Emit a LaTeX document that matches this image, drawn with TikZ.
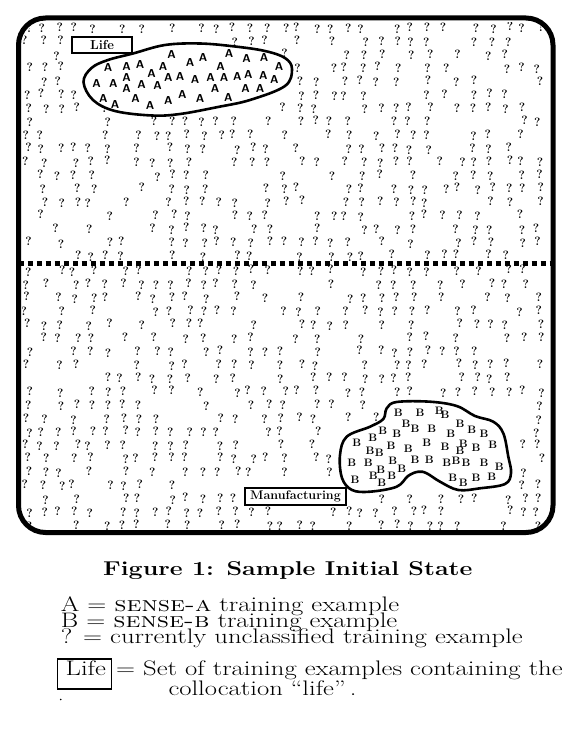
\documentclass[tikz,border=0pt]{standalone}
\usepackage{graphicx}
\newcommand\lgdstretch[1]{\scalebox{1.27}[1]{#1}}
\newcommand\capstretch[1]{\scalebox{1.25}[1]{#1}}
\begin{document}
\begin{tikzpicture}[x=1pt,y=-1pt,
  qm/.style={font=\bfseries\fontsize{12}{12}\selectfont, inner sep=0pt},
  amark/.style={font=\sffamily\bfseries\fontsize{11.5}{11.5}\selectfont, inner sep=0pt},
  bmark/.style={font=\bfseries\fontsize{10.8}{10.8}\selectfont, inner sep=0pt},
  blob/.style={line width=2.6pt, fill=white, line join=round},
  lbl/.style={draw, line width=1.6pt, fill=white, inner sep=0pt, font=\bfseries\fontsize{12.5}{12.5}\selectfont},
  legend/.style={anchor=base west, inner sep=0pt, font=\fontsize{21}{21}\selectfont},
]
\useasboundingbox (0,0) rectangle (582,730);

% scattered unclassified examples
\pgfmathsetseed{11}
\begin{scope}
\clip[rounded corners=22pt] (22,22) rectangle (550,529);
\foreach \r in {0,...,37}{
  \foreach \c in {0,...,32}{
    \pgfmathsetmacro{\px}{27+\c*16+3.5*rand}
    \pgfmathsetmacro{\py}{(\r<18 ? 28+13.4*\r : 271+13.4*(\r-18)) + 1.5*rand}
    \pgfmathtruncatemacro{\k}{rnd<0.64 ? 1 : 0}
    \pgfmathtruncatemacro{\excl}{
      ((((\px-188)/112)^2+((\py-79)/40)^2) < 1)
      || ((\px>64) && (\px<140) && (\py>30) && (\py<60))
      || ((\px>337) && (\px<514) && (\py>427) && (\py<495))
      || ((\px>382) && (\px<508) && (\py>397) && (\py<431))
      || ((\px>239) && (\px<352) && (\py>482) && (\py<511))}
    \ifnum\k=1 \ifnum\excl=0 \node[qm] (q\r-\c) at (\px,\py) {?};\fi\fi
  }
}
\end{scope}

% frame and separator
\draw[line width=5pt, rounded corners=27pt] (18.5,18) rectangle (553,532.5);
\coordinate (sepL) at (18.5,263.5);
\coordinate (sepR) at (553,263.5);
\draw[line width=5pt, dash pattern=on 5pt off 4pt] (sepL) -- (sepR);

% Life region
\draw[blob] plot[smooth cycle, tension=0.6] coordinates {
  (133,53.5) (165,45) (200,43.5) (235,46.5) (265,51) (285,58) (292,69)
  (285,86) (250,100) (218,107) (180,114) (152,115.5) (115,111) (93,100)
  (83.5,82) (91.5,68) (108,60)};
\node[lbl, minimum width=60pt, minimum height=16pt, font=\bfseries\fontsize{13}{13}\selectfont] (lifebox) at (102,45) {Life};
\foreach \x/\y [count=\i] in {171.7/54.3, 229/53.3, 203/58, 190/63, 246.7/59, 264/58,
  108/68, 126.7/67, 140/64.3, 163/67, 220.7/67, 279/66.7, 126.7/77.7, 151.7/73.3,
  168.3/77.7, 180/76.7, 195/79.3, 210.7/77.7, 224/77.7, 237.3/76.7, 248.3/74.3,
  263.3/75.7, 274.3/79.3, 96.7/83.3, 113.3/83.3, 126.7/89, 141.7/85, 157.7/85.7,
  215/88.3, 245.7/89, 260/88.3, 103.3/98.3, 115/104.3, 135.7/98.3, 150/105.7,
  168.3/101, 182.3/95, 200/99, 228.3/97.7}
  \node[amark] (a\i) at (\x,\y) {A};

% Manufacturing region
\draw[blob] plot[smooth cycle, tension=0.6] coordinates {
  (386.7,408.3) (396.7,402) (430,401.7) (456.7,406) (475,416) (493.3,421.7)
  (503.3,433.3) (508.3,456.7) (511,473) (505,484) (480,488.3) (458.3,490)
  (440,481.7) (426.7,473.3) (418.3,471.7) (408,476) (396.7,486.7) (370,491.7)
  (352,490) (342,478) (340,455) (346.7,436.7) (370,426.7) (383.3,419)};
\node[lbl, minimum width=101pt, minimum height=17pt] (manbox) at (295.5,496.5) {Manufacturing};
\foreach \x/\y [count=\i] in {398.3/412.7, 420/412.7, 439.3/410.7, 445/415, 406/424,
  382.7/431, 396.7/433.3, 415/428.3, 431.7/428.3, 460/423.3, 471.7/430, 484/433.3,
  450.7/433.3, 356.7/442.7, 372.7/437.7, 391/446, 408.3/448.7, 426.7/442.7,
  445/446.7, 463.3/443.3, 460/450.7, 476/447.3, 492.7/445, 370/451, 379.3/452.7,
  351.7/462.7, 368.3/462.7, 392.7/460.7, 380.7/469.3, 401.7/468.3, 415/460,
  429.3/460, 446.7/462.7, 456/461, 466/462.7, 484/462.7, 499.3/466.7, 355/479.3,
  373.3/476, 381.7/482.7, 391.7/476, 452.7/477.3, 463.3/482.7, 476/477.3, 491.7/476.7}
  \node[bmark] (b\i) at (\x,\y) {B};

% caption and legend
\node[legend, font=\bfseries\fontsize{20}{20}\selectfont] (caption) at (103,575)
  {\capstretch{Figure 1: Sample Initial State}};
\node[legend] (keyA) at (60.7,611.7) {\lgdstretch{A $=$ \textsc{sense-a} training example}};
\node[legend] (keyB) at (60.7,627.7) {\lgdstretch{B $=$ \textsc{sense-b} training example}};
\node[legend] (keyQ) at (60.7,643.5) {\lgdstretch{? $=$ currently unclassified training example}};
\node[draw, line width=1.2pt, minimum width=54pt, minimum height=30pt, inner sep=0pt] (keyLbox) at (84.2,674) {};
\node[legend] (keyL) at (65.5,675) {\lgdstretch{Life}};
\node[legend] (keyLtext) at (116,675) {\lgdstretch{$=$ Set of training examples containing the}};
\node[legend] (keyLtext2) at (168.3,695.7) {\lgdstretch{collocation ``life''\,.}};
\fill (60.7,699.5) circle (0.9pt);
\end{tikzpicture}
\end{document}
